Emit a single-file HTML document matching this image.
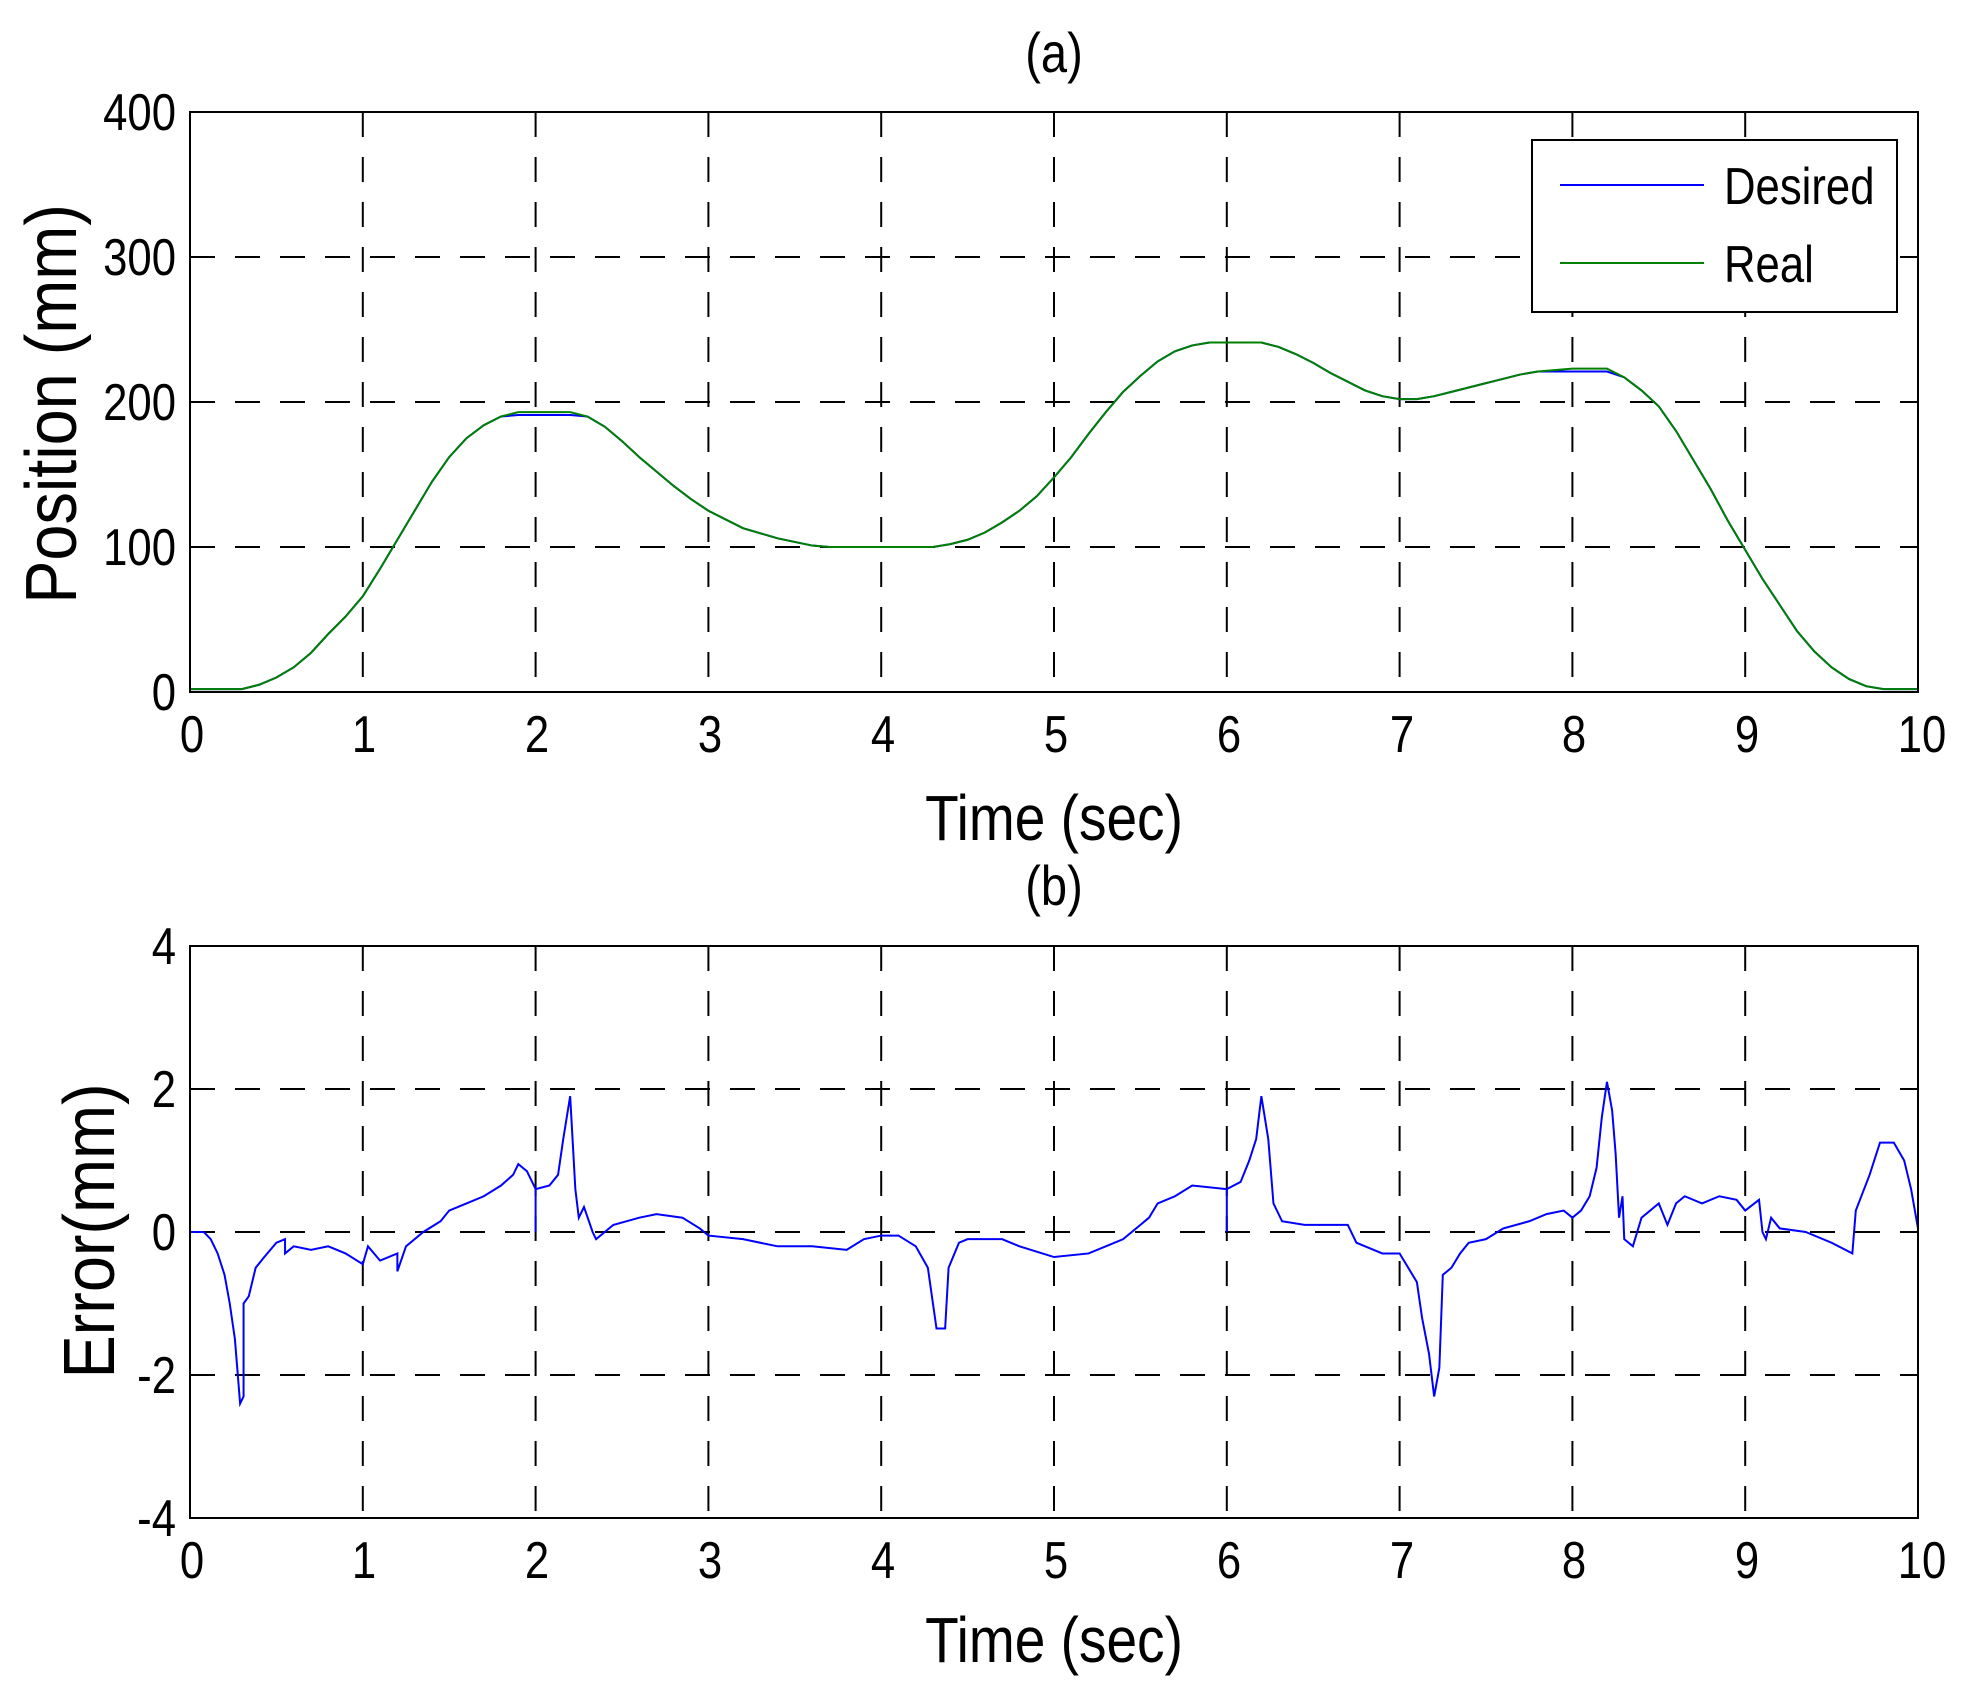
<!DOCTYPE html>
<html><head><meta charset="utf-8"><style>
html,body{margin:0;padding:0;background:#fff;}
svg{display:block;}
text{font-family:"Liberation Sans",Arial,sans-serif;fill:#000;}
</style></head><body>
<svg width="1970" height="1702" viewBox="0 0 1970 1702" xmlns="http://www.w3.org/2000/svg">
<rect width="1970" height="1702" fill="#fff"/>
<g stroke="#000" stroke-width="2" stroke-dasharray="25,20" fill="none">
<path d="M362.8 112V692M535.6 112V692M708.4 112V692M881.2 112V692M1054 112V692M1226.8 112V692M1399.6 112V692M1572.4 112V692M1745.2 112V692"/>
<path d="M190 257H1918M190 402H1918M190 547H1918"/>
<path d="M362.8 946V1518M535.6 946V1518M708.4 946V1518M881.2 946V1518M1054 946V1518M1226.8 946V1518M1399.6 946V1518M1572.4 946V1518M1745.2 946V1518"/>
<path d="M190 1089H1918M190 1232H1918M190 1375H1918"/>
</g>
<g transform="translate(190,692) scale(172.8,-1.45)">
<polyline fill="none" stroke="#0000ff" stroke-width="2" vector-effect="non-scaling-stroke" points="0,2 0.3,2 0.4,5 0.5,10 0.6,17 0.7,27 0.8,40 0.9,52 1.0,66 1.1,85 1.2,105 1.3,125 1.4,145 1.5,162 1.6,175 1.7,184 1.8,190 1.9,191 2.2,191 2.3,190 2.4,183 2.5,173 2.6,162 2.7,152 2.8,142 2.9,133 3.0,125 3.2,113 3.4,106 3.6,101 3.7,100 4.3,100 4.4,102 4.5,105 4.6,110 4.7,117 4.8,125 4.9,135 5.0,148 5.1,162 5.2,178 5.3,193 5.4,207 5.5,218 5.6,228 5.7,235 5.8,239 5.9,241 6.2,241 6.3,238 6.4,233 6.5,227 6.6,220 6.7,214 6.8,208 6.9,204 7.0,202 7.1,202 7.2,204 7.3,207 7.4,210 7.5,213 7.6,216 7.7,219 7.8,221 8.0,221 8.2,221 8.3,217 8.4,208 8.5,197 8.6,180 8.7,160 8.8,140 8.9,118 9.0,98 9.1,78 9.2,60 9.3,42 9.4,28 9.5,17 9.6,9 9.7,4 9.8,2 10,2"/>
<polyline fill="none" stroke="#008000" stroke-width="2" vector-effect="non-scaling-stroke" points="0,2 0.3,2 0.4,5 0.5,10 0.6,17 0.7,27 0.8,40 0.9,52 1.0,66 1.1,85 1.2,105 1.3,125 1.4,145 1.5,162 1.6,175 1.7,184 1.8,190 1.9,193 2.2,193 2.3,190 2.4,183 2.5,173 2.6,162 2.7,152 2.8,142 2.9,133 3.0,125 3.2,113 3.4,106 3.6,101 3.7,100 4.3,100 4.4,102 4.5,105 4.6,110 4.7,117 4.8,125 4.9,135 5.0,148 5.1,162 5.2,178 5.3,193 5.4,207 5.5,218 5.6,228 5.7,235 5.8,239 5.9,241 6.2,241 6.3,238 6.4,233 6.5,227 6.6,220 6.7,214 6.8,208 6.9,204 7.0,202 7.1,202 7.2,204 7.3,207 7.4,210 7.5,213 7.6,216 7.7,219 7.8,221 8.0,223 8.2,223 8.3,217 8.4,208 8.5,197 8.6,180 8.7,160 8.8,140 8.9,118 9.0,98 9.1,78 9.2,60 9.3,42 9.4,28 9.5,17 9.6,9 9.7,4 9.8,2 10,2"/>
</g>
<g transform="translate(190,1232) scale(172.8,-71.5)">
<polyline fill="none" stroke="#0000ff" stroke-width="2" vector-effect="non-scaling-stroke" points="0,0 0.08,0 0.12,-0.1 0.16,-0.3 0.2,-0.6 0.23,-1.0 0.26,-1.5 0.28,-2.1 0.29,-2.4 0.31,-2.3 0.31,-1.0 0.34,-0.9 0.38,-0.5 0.43,-0.35 0.5,-0.15 0.55,-0.1 0.55,-0.3 0.6,-0.2 0.7,-0.25 0.8,-0.2 0.9,-0.3 1.0,-0.45 1.03,-0.2 1.1,-0.4 1.2,-0.3 1.2,-0.55 1.25,-0.2 1.35,0 1.45,0.15 1.5,0.3 1.6,0.4 1.7,0.5 1.8,0.65 1.87,0.8 1.9,0.95 1.95,0.85 2.0,0.6 2.0,0 2.0,0.6 2.08,0.65 2.13,0.8 2.16,1.3 2.2,1.9 2.23,0.6 2.25,0.2 2.28,0.35 2.33,0.0 2.35,-0.1 2.45,0.1 2.6,0.2 2.7,0.25 2.85,0.2 2.95,0.05 3.0,-0.05 3.2,-0.1 3.4,-0.2 3.6,-0.2 3.8,-0.25 3.9,-0.1 4.0,-0.05 4.1,-0.05 4.2,-0.2 4.27,-0.5 4.32,-1.35 4.37,-1.35 4.39,-0.5 4.45,-0.15 4.5,-0.1 4.7,-0.1 4.8,-0.2 5.0,-0.35 5.2,-0.3 5.3,-0.2 5.4,-0.1 5.5,0.1 5.55,0.2 5.6,0.4 5.7,0.5 5.8,0.65 6.0,0.6 6.0,0 6.0,0.6 6.08,0.7 6.13,1.0 6.17,1.3 6.2,1.9 6.24,1.3 6.27,0.4 6.32,0.15 6.45,0.1 6.7,0.1 6.75,-0.15 6.8,-0.2 6.9,-0.3 7.0,-0.3 7.05,-0.5 7.1,-0.7 7.13,-1.2 7.17,-1.7 7.2,-2.3 7.23,-1.9 7.25,-0.6 7.3,-0.5 7.35,-0.3 7.4,-0.15 7.5,-0.1 7.6,0.05 7.75,0.15 7.85,0.25 7.95,0.3 8.0,0.2 8.05,0.3 8.1,0.5 8.14,0.9 8.17,1.6 8.2,2.1 8.23,1.7 8.25,1.1 8.27,0.2 8.29,0.5 8.3,-0.1 8.35,-0.2 8.4,0.2 8.5,0.4 8.55,0.1 8.6,0.4 8.65,0.5 8.75,0.4 8.85,0.5 8.95,0.45 9.0,0.3 9.08,0.45 9.1,0.0 9.12,-0.1 9.15,0.2 9.2,0.05 9.35,0 9.5,-0.15 9.62,-0.3 9.64,0.3 9.68,0.55 9.72,0.8 9.78,1.25 9.86,1.25 9.92,1.0 9.96,0.6 10,0.05"/>
</g>
<rect x="190" y="112" width="1728" height="580" fill="none" stroke="#000" stroke-width="2"/>
<rect x="190" y="946" width="1728" height="572" fill="none" stroke="#000" stroke-width="2"/>
<rect x="1532" y="140" width="365" height="172" fill="#fff" stroke="#000" stroke-width="2"/>
<line x1="1560" y1="185" x2="1704" y2="185" stroke="#0000ff" stroke-width="2"/>
<line x1="1560" y1="263" x2="1704" y2="263" stroke="#008000" stroke-width="2"/>
<text x="1724" y="204" font-size="52" transform="translate(1724 0) scale(0.84 1) translate(-1724 0)">Desired</text>
<text x="1724" y="282" font-size="52" transform="translate(1724 0) scale(0.84 1) translate(-1724 0)">Real</text>
<g font-size="56" text-anchor="middle">
<text x="1054" y="72" transform="translate(1054 0) scale(0.84 1) translate(-1054 0)">(a)</text>
<text x="1054" y="905" transform="translate(1054 0) scale(0.84 1) translate(-1054 0)">(b)</text>
<text x="1054" y="840" font-size="64" transform="translate(1054 0) scale(0.86 1) translate(-1054 0)">Time (sec)</text>
<text x="1054" y="1662" font-size="64" transform="translate(1054 0) scale(0.86 1) translate(-1054 0)">Time (sec)</text>
<text x="0" y="0" font-size="72" transform="translate(76 404) rotate(-90) scale(0.9 1)">Position (mm)</text>
<text x="0" y="0" font-size="72" transform="translate(114 1231) rotate(-90) scale(0.9 1)">Error(mm)</text>
</g>
<g font-size="52" text-anchor="middle">
<g transform="translate(0 752)">
<text x="0" y="0" transform="translate(192 0) scale(0.84 1)">0</text>
<text x="0" y="0" transform="translate(364 0) scale(0.84 1)">1</text>
<text x="0" y="0" transform="translate(537 0) scale(0.84 1)">2</text>
<text x="0" y="0" transform="translate(710 0) scale(0.84 1)">3</text>
<text x="0" y="0" transform="translate(883 0) scale(0.84 1)">4</text>
<text x="0" y="0" transform="translate(1056 0) scale(0.84 1)">5</text>
<text x="0" y="0" transform="translate(1229 0) scale(0.84 1)">6</text>
<text x="0" y="0" transform="translate(1402 0) scale(0.84 1)">7</text>
<text x="0" y="0" transform="translate(1574 0) scale(0.84 1)">8</text>
<text x="0" y="0" transform="translate(1747 0) scale(0.84 1)">9</text>
<text x="0" y="0" transform="translate(1922 0) scale(0.84 1)">10</text>
</g>
<g transform="translate(0 1578)">
<text x="0" y="0" transform="translate(192 0) scale(0.84 1)">0</text>
<text x="0" y="0" transform="translate(364 0) scale(0.84 1)">1</text>
<text x="0" y="0" transform="translate(537 0) scale(0.84 1)">2</text>
<text x="0" y="0" transform="translate(710 0) scale(0.84 1)">3</text>
<text x="0" y="0" transform="translate(883 0) scale(0.84 1)">4</text>
<text x="0" y="0" transform="translate(1056 0) scale(0.84 1)">5</text>
<text x="0" y="0" transform="translate(1229 0) scale(0.84 1)">6</text>
<text x="0" y="0" transform="translate(1402 0) scale(0.84 1)">7</text>
<text x="0" y="0" transform="translate(1574 0) scale(0.84 1)">8</text>
<text x="0" y="0" transform="translate(1747 0) scale(0.84 1)">9</text>
<text x="0" y="0" transform="translate(1922 0) scale(0.84 1)">10</text>
</g>
</g>
<g font-size="52" text-anchor="end">
<text x="0" y="0" transform="translate(176 130) scale(0.84 1)">400</text>
<text x="0" y="0" transform="translate(176 275) scale(0.84 1)">300</text>
<text x="0" y="0" transform="translate(176 420) scale(0.84 1)">200</text>
<text x="0" y="0" transform="translate(176 565) scale(0.84 1)">100</text>
<text x="0" y="0" transform="translate(176 710) scale(0.84 1)">0</text>
<text x="0" y="0" transform="translate(176 964) scale(0.84 1)">4</text>
<text x="0" y="0" transform="translate(176 1107) scale(0.84 1)">2</text>
<text x="0" y="0" transform="translate(176 1250) scale(0.84 1)">0</text>
<text x="0" y="0" transform="translate(176 1393) scale(0.84 1)">-2</text>
<text x="0" y="0" transform="translate(176 1536) scale(0.84 1)">-4</text>
</g>
</svg>
</body></html>
